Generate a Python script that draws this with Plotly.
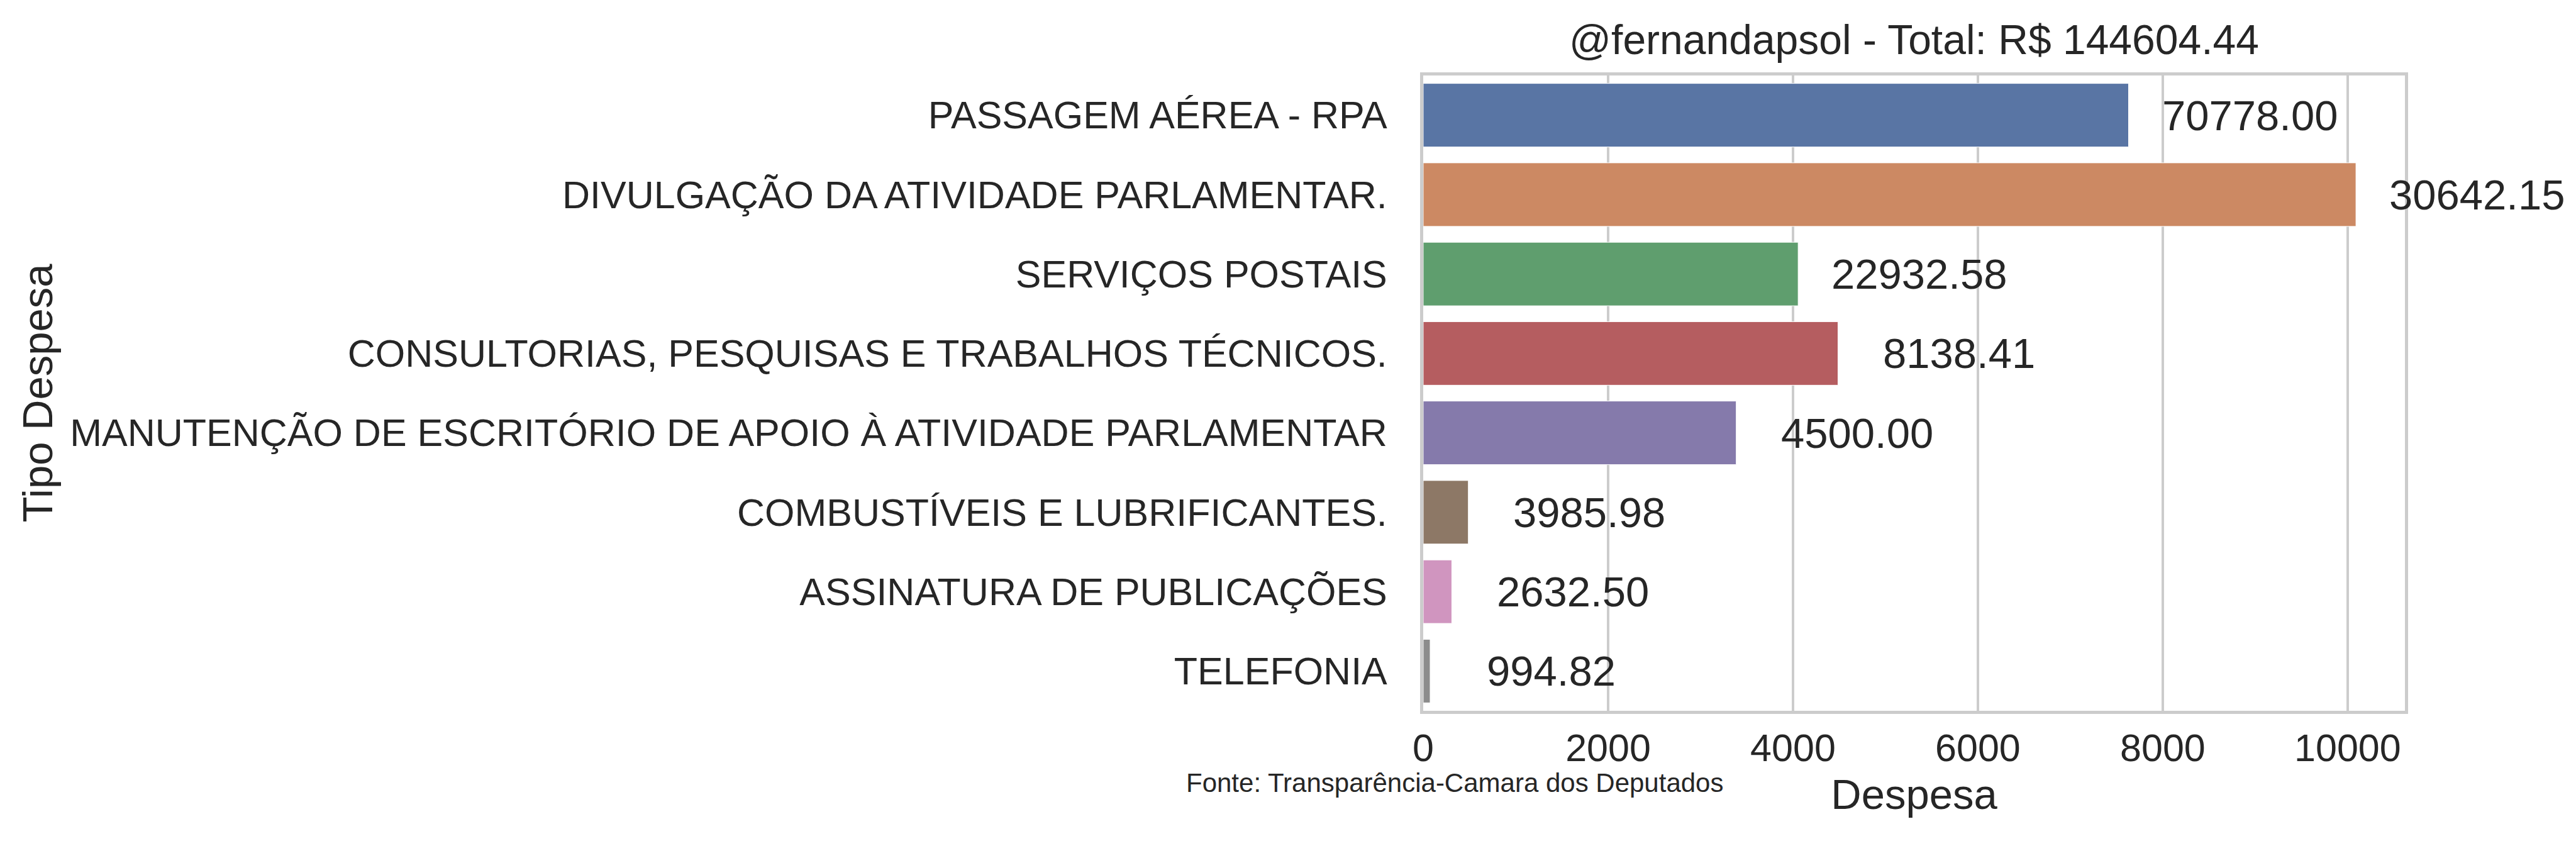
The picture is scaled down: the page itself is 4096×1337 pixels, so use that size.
import plotly.graph_objects as go

categories = [
    "PASSAGEM AÉREA - RPA",
    "DIVULGAÇÃO DA ATIVIDADE PARLAMENTAR.",
    "SERVIÇOS POSTAIS",
    "CONSULTORIAS, PESQUISAS E TRABALHOS TÉCNICOS.",
    "MANUTENÇÃO DE ESCRITÓRIO DE APOIO À ATIVIDADE PARLAMENTAR",
    "COMBUSTÍVEIS E LUBRIFICANTES.",
    "ASSINATURA DE PUBLICAÇÕES",
    "TELEFONIA",
]
bar_values = [7630, 10090, 4056, 4487, 3386, 488, 309, 75]
label_texts = ["70778.00", "30642.15", "22932.58", "8138.41", "4500.00", "3985.98", "2632.50", "994.82"]
colors = ["#5975a4", "#cc8963", "#5f9e6e", "#b55d60", "#857aab", "#8d7866", "#d095bf", "#8c8c8c"]
x_ticks = [0, 2000, 4000, 6000, 8000, 10000]

FONT = "Arial, Liberation Sans, sans-serif"
TXT = "#262626"
X_MAX = 10620
LABEL_OFFSET = 1310

fig = go.Figure()
fig.add_trace(go.Bar(
    x=bar_values, y=categories, orientation="h",
    marker=dict(color=colors, line=dict(color="white", width=1)),
    width=0.8, showlegend=False, hoverinfo="skip",
))

annotations = []
for c, v, t in zip(categories, bar_values, label_texts):
    annotations.append(dict(
        x=(v + LABEL_OFFSET) / X_MAX, y=c, xref="paper", yref="y", text=t, showarrow=False,
        xanchor="center", yanchor="middle", font=dict(family=FONT, size=67, color=TXT),
    ))
annotations.append(dict(
    x=-0.243, y=-0.113, xref="paper", yref="paper",
    text="Fonte: Transparência-Camara dos Deputados", showarrow=False,
    xanchor="left", yanchor="middle", font=dict(family=FONT, size=42, color=TXT),
))

fig.update_layout(
    width=4096, height=1337,
    margin=dict(l=2255, r=280, t=112, b=215, pad=0),
    paper_bgcolor="white", plot_bgcolor="white",
    title=dict(text="@fernandapsol - Total: R$ 144604.44", x=0.5, xref="paper",
               y=1 - 55 / 1337, yanchor="middle", yref="container",
               font=dict(family=FONT, size=66, color=TXT)),
    annotations=annotations,
)
fig.update_xaxes(
    range=[0, X_MAX], tickvals=x_ticks, ticktext=[str(v) for v in x_ticks],
    showgrid=True, gridcolor="#cccccc", gridwidth=4,
    showline=True, mirror=True, linecolor="#cccccc", linewidth=5,
    zeroline=False, ticks="", ticklabelstandoff=2,
    tickfont=dict(family=FONT, size=61, color=TXT),
    title=dict(text="Despesa", font=dict(family=FONT, size=67, color=TXT), standoff=18),
)
fig.update_yaxes(
    type="category", categoryorder="array", categoryarray=categories,
    range=[7.5, -0.5], showgrid=False,
    showline=True, mirror=True, linecolor="#cccccc", linewidth=5,
    ticks="", ticklabelstandoff=40,
    tickfont=dict(family=FONT, size=61, color=TXT),
    title=dict(text="Tipo Despesa", font=dict(family=FONT, size=67, color=TXT), standoff=7),
)

fig.write_html("out.html")
